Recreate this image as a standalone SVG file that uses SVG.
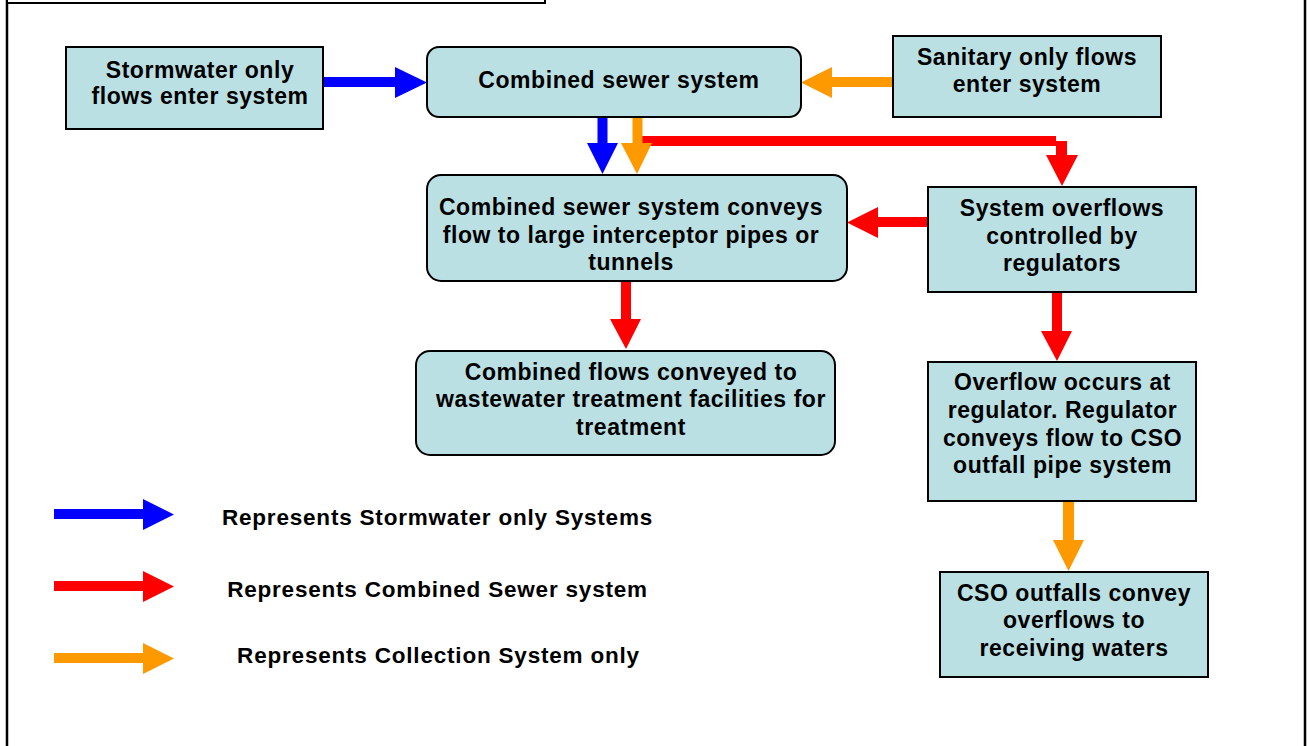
<svg xmlns="http://www.w3.org/2000/svg" width="1307" height="746" viewBox="0 0 1307 746">
<style>
.box{fill:#BBE0E3;stroke:#000;stroke-width:2}
.t{font-family:"Liberation Sans",Arial,sans-serif;font-weight:bold;font-size:23px;fill:#000;text-anchor:middle;letter-spacing:0.55px}
.lt{font-family:"Liberation Sans",Arial,sans-serif;font-weight:bold;font-size:22.5px;fill:#000;text-anchor:middle;letter-spacing:0.8px}
.blue{fill:#0000FF}
.red{fill:#FF0000}
.org{fill:#FF9900}
</style>
<rect width="1307" height="746" fill="#fff"/>
<g id="frame">
<line x1="7" y1="0" x2="7" y2="746" stroke="#000" stroke-width="2.5"/>
<line x1="1305" y1="0" x2="1305" y2="746" stroke="#000" stroke-width="2.5"/>
<rect x="7" y="-10" width="538" height="13" fill="#fff" stroke="#000" stroke-width="2"/>
</g>
<g id="connectors">
<polygon class="blue" points="323,77 395,77 395,67 427,82.5 395,98 395,87 323,87"/>
<polygon class="org" points="893,77 832,77 832,67 801,82.5 832,98 832,87 893,87"/>
<polygon class="red" points="642,136 1056,136 1056,141 1067,141 1067,155 1078,155 1062,186 1046,155 1056,155 1056,146 642,146"/>
<polygon class="blue" points="597.5,117 607.5,117 607.5,143 618,143 602.5,174 587,143 597.5,143"/>
<polygon class="org" points="632.5,117 642.5,117 642.5,143 652,143 637,174 621,143 632.5,143"/>
<polygon class="red" points="928,217 878,217 878,207 847,222.5 878,238 878,227 928,227"/>
<polygon class="red" points="621,281 631,281 631,319 641,319 626,349 610,319 621,319"/>
<polygon class="red" points="1052,292 1062,292 1062,331 1072,331 1057,361 1041,331 1052,331"/>
<polygon class="org" points="1063,502 1074,502 1074,540 1084,540 1068.5,571 1053,540 1063,540"/>
</g>
<g id="n-stormwater">
<rect class="box" x="66" y="47" width="257" height="82"/>
<text class="t" x="200" y="78">Stormwater only</text>
<text class="t" x="200" y="104">flows enter system</text>
</g>
<g id="n-combined">
<rect class="box" x="427" y="47" width="374" height="70" rx="12"/>
<text class="t" x="619" y="88">Combined sewer system</text>
</g>
<g id="n-sanitary">
<rect class="box" x="893" y="36" width="268" height="81"/>
<text class="t" x="1027" y="65">Sanitary only flows</text>
<text class="t" x="1027" y="92">enter system</text>
</g>
<g id="n-conveys">
<rect class="box" x="427" y="175" width="420" height="106" rx="14"/>
<text class="t" x="631" y="215">Combined sewer system conveys</text>
<text class="t" x="631" y="243">flow to large interceptor pipes or</text>
<text class="t" x="631" y="270">tunnels</text>
</g>
<g id="n-treatment">
<rect class="box" x="416" y="351" width="419" height="104" rx="14"/>
<text class="t" x="631" y="380">Combined flows conveyed to</text>
<text class="t" x="631" y="407">wastewater treatment facilities for</text>
<text class="t" x="631" y="435">treatment</text>
</g>
<g id="n-overflows">
<rect class="box" x="928" y="187" width="268" height="105"/>
<text class="t" x="1062" y="216">System overflows</text>
<text class="t" x="1062" y="244">controlled by</text>
<text class="t" x="1062" y="271">regulators</text>
</g>
<g id="n-regulator">
<rect class="box" x="928" y="362" width="268" height="139"/>
<text class="t" x="1062.5" y="390">Overflow occurs at</text>
<text class="t" x="1062.5" y="418">regulator. Regulator</text>
<text class="t" x="1062.5" y="446">conveys flow to CSO</text>
<text class="t" x="1062.5" y="473">outfall pipe system</text>
</g>
<g id="n-cso">
<rect class="box" x="940" y="572" width="268" height="105"/>
<text class="t" x="1074" y="601">CSO outfalls convey</text>
<text class="t" x="1074" y="628">overflows to</text>
<text class="t" x="1074" y="656">receiving waters</text>
</g>
<g id="legend">
<polygon class="blue" points="54,509 143,509 143,499 174,514.5 143,530 143,519 54,519"/>
<polygon class="red" points="54,581 143,581 143,571 174,586.5 143,602 143,591 54,591"/>
<polygon class="org" points="54,653 143,653 143,643 174,658.5 143,674 143,663 54,663"/>
<text class="lt" x="437.5" y="525">Represents Stormwater only Systems</text>
<text class="lt" x="437.5" y="597">Represents Combined Sewer system</text>
<text class="lt" x="438.5" y="663">Represents Collection System only</text>
</g>
</svg>
